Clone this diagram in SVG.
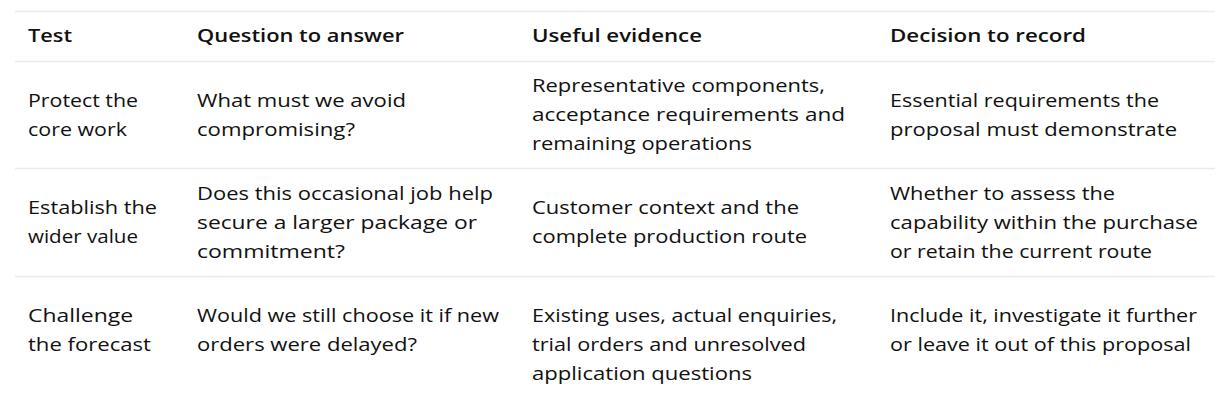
<svg xmlns="http://www.w3.org/2000/svg" width="1227" height="400" viewBox="0 0 1227 400">
<style>
text{font-family:"Open Sans","Liberation Sans",sans-serif;font-size:18px;fill:#111111}
.h{font-weight:600}
.rule{stroke:#ebebeb;stroke-width:1.3}
</style>
<rect width="1227" height="400" fill="#ffffff"/>
<g id="rules">
<line class="rule" x1="15" y1="11.5" x2="1215" y2="11.5"/>
<line class="rule" x1="15" y1="61.5" x2="1215" y2="61.5"/>
<line class="rule" x1="15" y1="168.5" x2="1215" y2="168.5"/>
<line class="rule" x1="15" y1="276.5" x2="1215" y2="276.5"/>
</g>
<g id="header">
<text class="h" x="28" y="42" textLength="44" lengthAdjust="spacingAndGlyphs">Test</text>
<text class="h" x="197" y="42" textLength="207" lengthAdjust="spacingAndGlyphs">Question to answer</text>
<text class="h" x="532" y="42" textLength="170" lengthAdjust="spacingAndGlyphs">Useful evidence</text>
<text class="h" x="890" y="42" textLength="196" lengthAdjust="spacingAndGlyphs">Decision to record</text>
</g>
<g id="row1">
<text x="28" y="107" textLength="110" lengthAdjust="spacingAndGlyphs">Protect the</text>
<text x="28" y="136" textLength="99" lengthAdjust="spacingAndGlyphs">core work</text>
<text x="197" y="107" textLength="209" lengthAdjust="spacingAndGlyphs">What must we avoid</text>
<text x="197" y="136" textLength="158" lengthAdjust="spacingAndGlyphs">compromising?</text>
<text x="532" y="92" textLength="293" lengthAdjust="spacingAndGlyphs">Representative components,</text>
<text x="532" y="121" textLength="313" lengthAdjust="spacingAndGlyphs">acceptance requirements and</text>
<text x="532" y="150" textLength="220" lengthAdjust="spacingAndGlyphs">remaining operations</text>
<text x="890" y="107" textLength="269" lengthAdjust="spacingAndGlyphs">Essential requirements the</text>
<text x="890" y="136" textLength="287" lengthAdjust="spacingAndGlyphs">proposal must demonstrate</text>
</g>
<g id="row2">
<text x="28" y="214" textLength="129" lengthAdjust="spacingAndGlyphs">Establish the</text>
<text x="28" y="243" textLength="110" lengthAdjust="spacingAndGlyphs">wider value</text>
<text x="197" y="200" textLength="296" lengthAdjust="spacingAndGlyphs">Does this occasional job help</text>
<text x="197" y="229" textLength="280" lengthAdjust="spacingAndGlyphs">secure a larger package or</text>
<text x="197" y="258" textLength="148" lengthAdjust="spacingAndGlyphs">commitment?</text>
<text x="532" y="214" textLength="267" lengthAdjust="spacingAndGlyphs">Customer context and the</text>
<text x="532" y="243" textLength="275" lengthAdjust="spacingAndGlyphs">complete production route</text>
<text x="890" y="200" textLength="225" lengthAdjust="spacingAndGlyphs">Whether to assess the</text>
<text x="890" y="229" textLength="308" lengthAdjust="spacingAndGlyphs">capability within the purchase</text>
<text x="890" y="258" textLength="262" lengthAdjust="spacingAndGlyphs">or retain the current route</text>
</g>
<g id="row3">
<text x="28" y="322" textLength="105" lengthAdjust="spacingAndGlyphs">Challenge</text>
<text x="28" y="351" textLength="123" lengthAdjust="spacingAndGlyphs">the forecast</text>
<text x="197" y="322" textLength="302" lengthAdjust="spacingAndGlyphs">Would we still choose it if new</text>
<text x="197" y="351" textLength="220" lengthAdjust="spacingAndGlyphs">orders were delayed?</text>
<text x="532" y="322" textLength="305" lengthAdjust="spacingAndGlyphs">Existing uses, actual enquiries,</text>
<text x="532" y="351" textLength="274" lengthAdjust="spacingAndGlyphs">trial orders and unresolved</text>
<text x="532" y="380" textLength="220" lengthAdjust="spacingAndGlyphs">application questions</text>
<text x="890" y="322" textLength="307" lengthAdjust="spacingAndGlyphs">Include it, investigate it further</text>
<text x="890" y="351" textLength="301" lengthAdjust="spacingAndGlyphs">or leave it out of this proposal</text>
</g>
</svg>
